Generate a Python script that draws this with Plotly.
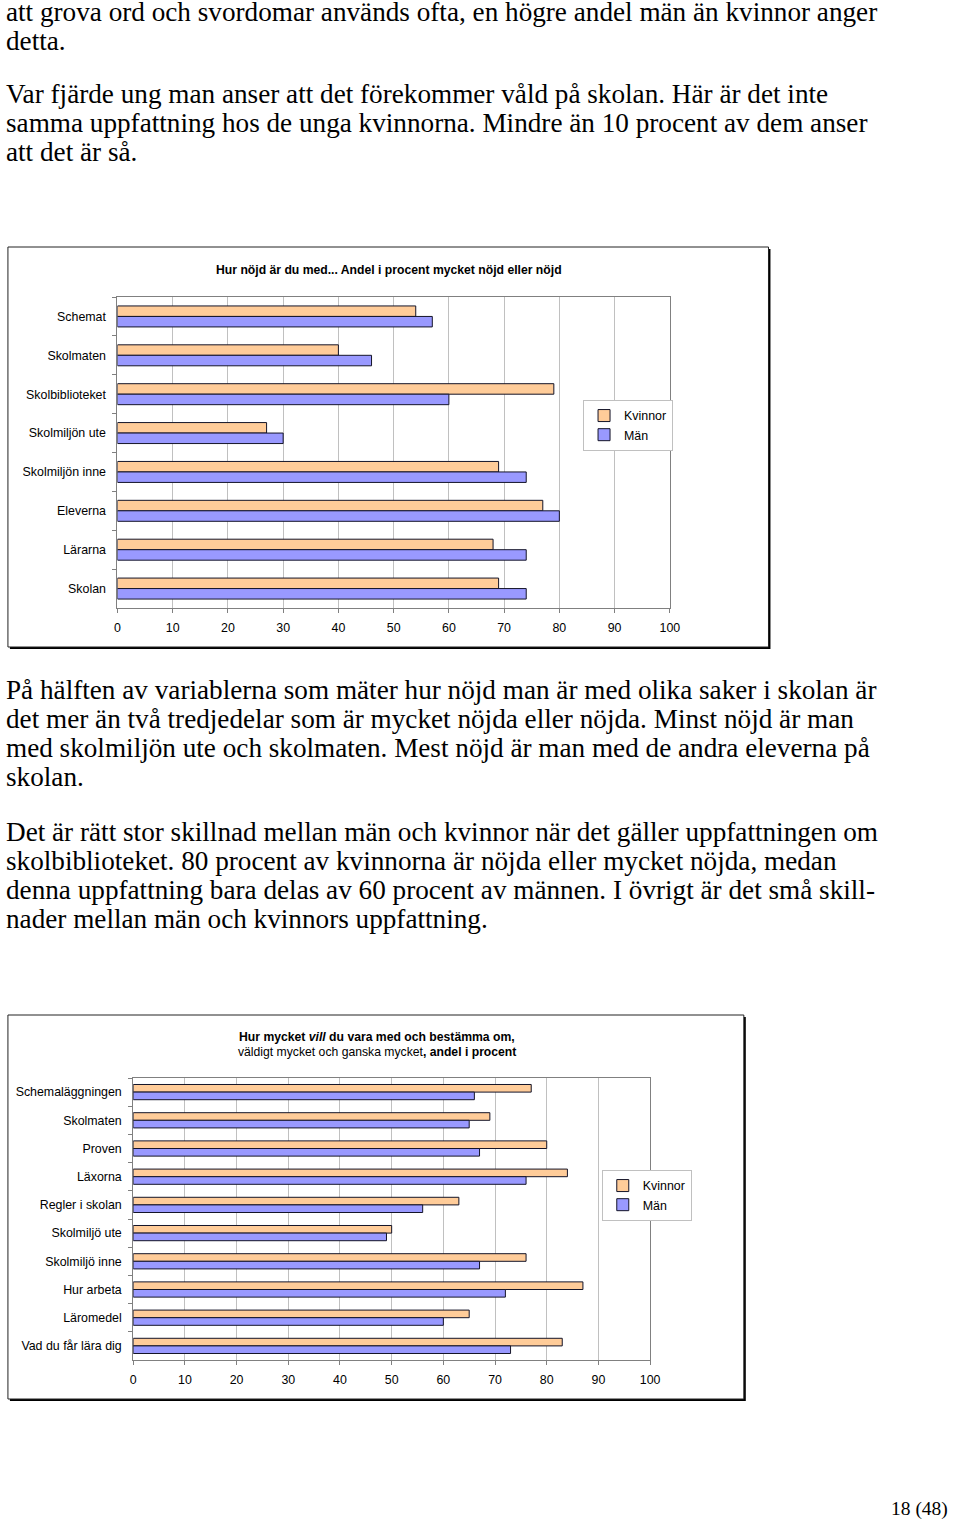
import plotly.graph_objects as go

W, H = 960, 1523

# ---------------- data ----------------
series_names = ["Kvinnor", "Män"]
series_colors = ["#FFCC99", "#9999FF"]

cat1 = ["Schemat", "Skolmaten", "Skolbiblioteket", "Skolmiljön ute",
        "Skolmiljön inne", "Eleverna", "Lärarna", "Skolan"]
kvinnor1 = [54, 40, 79, 27, 69, 77, 68, 69]
man1 = [57, 46, 60, 30, 74, 80, 74, 74]

cat2 = ["Schemaläggningen", "Skolmaten", "Proven", "Läxorna", "Regler i skolan",
        "Skolmiljö ute", "Skolmiljö inne", "Hur arbeta", "Läromedel",
        "Vad du får lära dig"]
kvinnor2 = [77, 69, 80, 84, 63, 50, 76, 87, 65, 83]
man2 = [66, 65, 67, 76, 56, 49, 67, 72, 60, 73]

x_ticks = [0, 10, 20, 30, 40, 50, 60, 70, 80, 90, 100]

title1 = "<b>Hur nöjd är du med... Andel i procent mycket nöjd eller nöjd</b>"
title2_l1 = "<b>Hur mycket <i>vill</i> du vara med och bestämma om,</b>"
title2_l2 = "väldigt mycket och ganska mycket<b>, andel i procent</b>"

paragraphs = [
    ["att grova ord och svordomar används ofta, en högre andel män än kvinnor anger",
     "detta."],
    ["Var fjärde ung man anser att det förekommer våld på skolan. Här är det inte",
     "samma uppfattning hos de unga kvinnorna. Mindre än 10 procent av dem anser",
     "att det är så."],
    ["På hälften av variablerna som mäter hur nöjd man är med olika saker i skolan är",
     "det mer än två tredjedelar som är mycket nöjda eller nöjda. Minst nöjd är man",
     "med skolmiljön ute och skolmaten. Mest nöjd är man med de andra eleverna på",
     "skolan."],
    ["Det är rätt stor skillnad mellan män och kvinnor när det gäller uppfattningen om",
     "skolbiblioteket. 80 procent av kvinnorna är nöjda eller mycket nöjda, medan",
     "denna uppfattning bara delas av 60 procent av männen. I övrigt är det små skill-",
     "nader mellan män och kvinnors uppfattning."],
]
page_label = "18 (48)"

# ---------------- layout helpers ----------------
def fx(px):
    return px / W


def fy(py):
    return 1 - py / H


para_top = [12, 94, 690, 832]   # pixel centre of each paragraph's first line
line_step = 29

fig = go.Figure()

for vals, name, col in zip([kvinnor1, man1], series_names, series_colors):
    fig.add_trace(go.Bar(y=cat1, x=vals, name=name, orientation="h",
                         marker=dict(color=col, line=dict(color="#141428", width=1)),
                         xaxis="x", yaxis="y", legend="legend"))
for vals, name, col in zip([kvinnor2, man2], series_names, series_colors):
    fig.add_trace(go.Bar(y=cat2, x=vals, name=name, orientation="h",
                         marker=dict(color=col, line=dict(color="#141428", width=1)),
                         xaxis="x2", yaxis="y2", legend="legend2"))

axis_font = dict(family="Liberation Sans, Arial", size=12.4, color="black")
xcommon = dict(range=[0, 100], tickvals=x_ticks, showgrid=True, gridcolor="#c0c0c0",
               gridwidth=1, showline=True, linecolor="#808080", linewidth=1, mirror=True,
               ticks="outside", ticklen=4, tickcolor="#808080", tickfont=axis_font,
               zeroline=False, fixedrange=True, ticklabelstandoff=4)
ycommon = dict(type="category", autorange="reversed", showline=True, linecolor="#808080",
               linewidth=1, mirror=True, ticks="outside", ticklen=4, tickcolor="#808080",
               tickson="boundaries", tickfont=axis_font, showgrid=False, fixedrange=True,
               ticklabelstandoff=8)

shapes = []
for (x0, y0, x1, y1) in [(5, 247, 776, 647), (5, 1015, 751, 1399)]:
    shapes.append(dict(type="rect", xref="paper", yref="paper", layer="below",
                       x0=fx(x0 + 2), x1=fx(x1 + 2), y0=fy(y0 + 2), y1=fy(y1 + 2),
                       fillcolor="black", line=dict(width=0)))
    shapes.append(dict(type="rect", xref="paper", yref="paper", layer="below",
                       x0=fx(x0), x1=fx(x1), y0=fy(y0), y1=fy(y1),
                       fillcolor="white", line=dict(color="#222222", width=1)))

annotations = []
serif = dict(family="Liberation Serif, Times New Roman", size=27.2, color="black")
for top, lines in zip(para_top, paragraphs):
    for i, line in enumerate(lines):
        annotations.append(dict(text=line, x=fx(1), y=fy(top + line_step * i),
                                xref="paper", yref="paper", xanchor="left", yanchor="middle",
                                showarrow=False, font=serif))
annotations.append(dict(text=page_label, x=fx(960), y=fy(1509), xref="paper", yref="paper",
                        xanchor="right", yanchor="middle", showarrow=False,
                        font=dict(family="Liberation Serif, Times New Roman", size=19.5, color="black")))

title_font = dict(family="Liberation Sans, Arial", size=12.2, color="black")
annotations.append(dict(text=title1, x=fx(391), y=fy(270), xref="paper", yref="paper",
                        xanchor="center", yanchor="middle", showarrow=False, font=title_font))
annotations.append(dict(text=title2_l1, x=fx(379), y=fy(1037), xref="paper", yref="paper",
                        xanchor="center", yanchor="middle", showarrow=False, font=title_font))
annotations.append(dict(text=title2_l2, x=fx(379), y=fy(1052), xref="paper", yref="paper",
                        xanchor="center", yanchor="middle", showarrow=False, font=title_font))

legend_common = dict(bgcolor="white", bordercolor="#c0c0c0", borderwidth=1,
                     font=dict(family="Liberation Sans, Arial", size=12.4, color="black"),
                     xanchor="left", yanchor="top", itemwidth=30, tracegroupgap=0,
                     traceorder="normal")

fig.update_layout(
    width=W, height=H, margin=dict(l=0, r=0, t=0, b=0),
    paper_bgcolor="white", plot_bgcolor="white",
    barmode="group", bargap=0.46, bargroupgap=0,
    showlegend=True,
    xaxis=dict(domain=[fx(116), fx(676)], anchor="y", **xcommon),
    yaxis=dict(domain=[fy(608), fy(297)], anchor="x", **ycommon),
    xaxis2=dict(domain=[fx(132), fx(656)], anchor="y2", **xcommon),
    yaxis2=dict(domain=[fy(1360), fy(1078)], anchor="x2", **ycommon),
    legend=dict(x=fx(588), y=fy(400), **legend_common),
    legend2=dict(x=fx(607), y=fy(1170), **legend_common),
    shapes=shapes, annotations=annotations,
)

fig.write_html("out.html")
